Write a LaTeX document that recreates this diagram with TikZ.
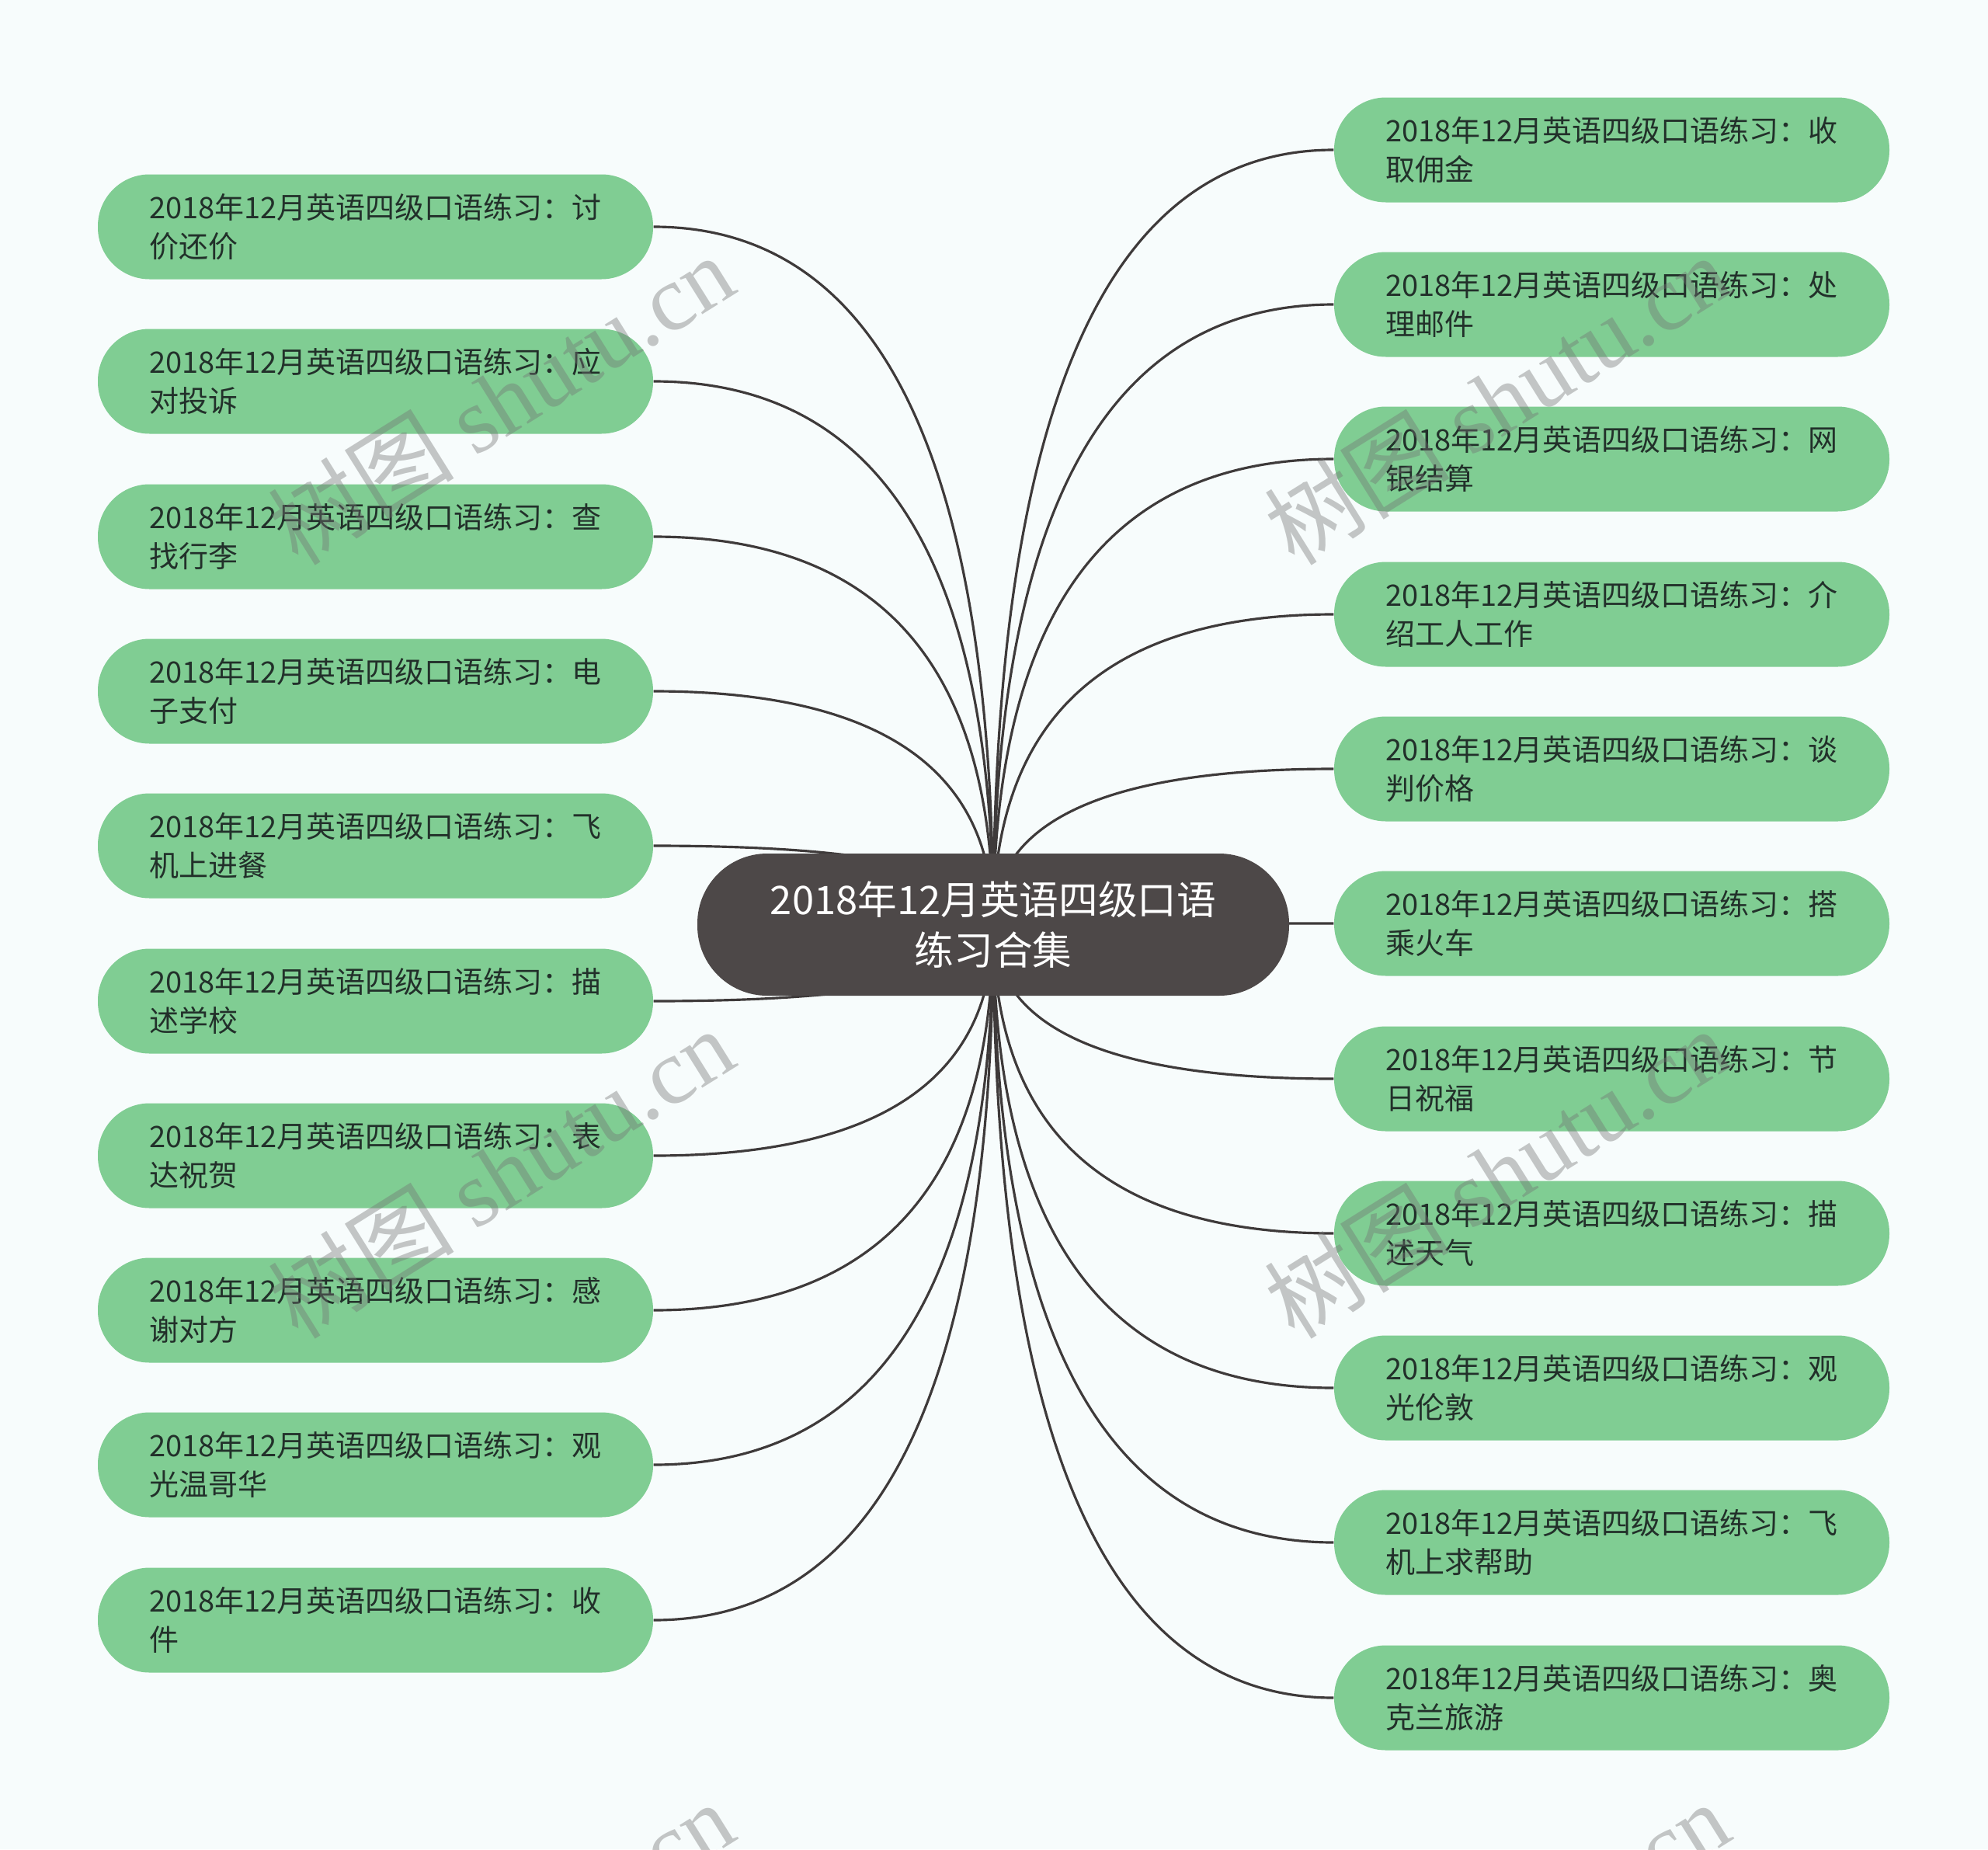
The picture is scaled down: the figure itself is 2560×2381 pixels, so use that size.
\documentclass[tikz,border=0pt]{standalone}
\usepackage{fontspec}
\setmainfont{Noto Sans CJK SC}
\newfontfamily\wmserif{Liberation Serif}
\usetikzlibrary{calc}
\pgfdeclarelayer{bg}
\pgfdeclarelayer{lines}
\pgfsetlayers{bg,lines,main}
\definecolor{bgc}{HTML}{F7FCFC}
\definecolor{leafc}{HTML}{80CD93}
\definecolor{rootc}{HTML}{4D4848}
\definecolor{linec}{HTML}{3E3A3A}
\definecolor{leaftext}{HTML}{22302A}
\newcommand\linkto[2]{%
  \path (root.center |- #1.#2) coordinate (k#1);
  \draw[link] (root.center) .. controls ($(root.center)!0.6667!(k#1)$) and ($(#1.#2)!0.6667!(k#1)$) .. (#1.#2);}
\begin{document}
\begin{tikzpicture}[x=0.3pt,y=-0.3pt,
  leaf/.style={fill=leafc, rounded corners=20pt, minimum width=214.5pt, minimum height=40.5pt,
    inner sep=0pt, align=left, font=\fontsize{11.4pt}{15.2pt}\selectfont, text=leaftext},
  rootnode/.style={fill=rootc, rounded corners=27pt, minimum width=228.6pt, minimum height=54.9pt,
    inner sep=0pt, align=center, font=\fontsize{15.2pt}{19.5pt}\selectfont, text=white},
  link/.style={draw=linec, line width=0.95pt},
  wm/.style={rotate=32, text=black!55, text opacity=0.4, font=\fontsize{36pt}{40pt}\selectfont, inner sep=0pt}]
\clip (0,0) rectangle (2560,2381);
\begin{pgfonlayer}{bg}
\fill[bgc] (0,0) rectangle (2560,2381);
\end{pgfonlayer}

\node[rootnode] (root) at (1279,1190.5) {2018年12月英语四级口语\\练习合集};

\node[leaf] (L1) at (483.5,292) {2018年12月英语四级口语练习：讨\\价还价};
\node[leaf] (L2) at (483.5,491) {2018年12月英语四级口语练习：应\\对投诉};
\node[leaf] (L3) at (483.5,691) {2018年12月英语四级口语练习：查\\找行李};
\node[leaf] (L4) at (483.5,890) {2018年12月英语四级口语练习：电\\子支付};
\node[leaf] (L5) at (483.5,1089) {2018年12月英语四级口语练习：飞\\机上进餐};
\node[leaf] (L6) at (483.5,1289) {2018年12月英语四级口语练习：描\\述学校};
\node[leaf] (L7) at (483.5,1488) {2018年12月英语四级口语练习：表\\达祝贺};
\node[leaf] (L8) at (483.5,1687) {2018年12月英语四级口语练习：感\\谢对方};
\node[leaf] (L9) at (483.5,1886) {2018年12月英语四级口语练习：观\\光温哥华};
\node[leaf] (L10) at (483.5,2086) {2018年12月英语四级口语练习：收\\件};

\node[leaf] (R1) at (2075.5,193) {2018年12月英语四级口语练习：收\\取佣金};
\node[leaf] (R2) at (2075.5,392) {2018年12月英语四级口语练习：处\\理邮件};
\node[leaf] (R3) at (2075.5,591) {2018年12月英语四级口语练习：网\\银结算};
\node[leaf] (R4) at (2075.5,791) {2018年12月英语四级口语练习：介\\绍工人工作};
\node[leaf] (R5) at (2075.5,990) {2018年12月英语四级口语练习：谈\\判价格};
\node[leaf] (R6) at (2075.5,1189) {2018年12月英语四级口语练习：搭\\乘火车};
\node[leaf] (R7) at (2075.5,1389) {2018年12月英语四级口语练习：节\\日祝福};
\node[leaf] (R8) at (2075.5,1588) {2018年12月英语四级口语练习：描\\述天气};
\node[leaf] (R9) at (2075.5,1787) {2018年12月英语四级口语练习：观\\光伦敦};
\node[leaf] (R10) at (2075.5,1986) {2018年12月英语四级口语练习：飞\\机上求帮助};
\node[leaf] (R11) at (2075.5,2186) {2018年12月英语四级口语练习：奥\\克兰旅游};

\begin{pgfonlayer}{lines}
\foreach \n in {L1,L2,L3,L4,L5,L6,L7,L8,L9,L10} {\linkto{\n}{east}}
\foreach \n in {R1,R2,R3,R4,R5,R6,R7,R8,R9,R10,R11} {\linkto{\n}{west}}
\end{pgfonlayer}

\node[wm] (w1) at (645,514) {树图 {\wmserif shutu.cn}};
\node[wm] (w2) at (645,1510) {树图 {\wmserif shutu.cn}};
\node[wm] (w3) at (1927,514) {树图 {\wmserif shutu.cn}};
\node[wm] (w4) at (1927,1510) {树图 {\wmserif shutu.cn}};
\node[wm] (w5) at (645,2506) {树图 {\wmserif shutu.cn}};
\node[wm] (w6) at (1927,2506) {树图 {\wmserif shutu.cn}};
\end{tikzpicture}
\end{document}
